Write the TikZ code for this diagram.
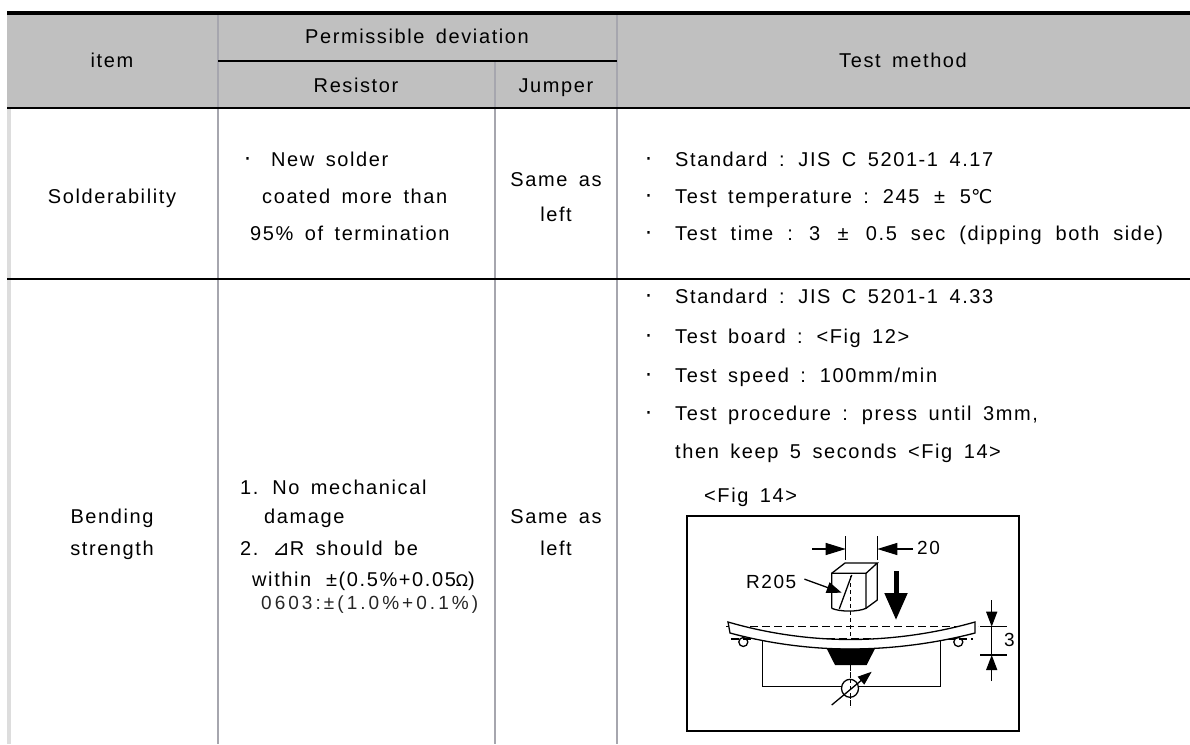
\documentclass[tikz,border=0pt]{standalone}
\usepackage{fontspec}
\setmainfont{Liberation Sans}[LetterSpace=8,WordSpace=1.6]
\newfontfamily\symfont{DejaVu Sans}
\newfontfamily\thinfont{Liberation Sans}[LetterSpace=16]
\usetikzlibrary{arrows.meta}
\definecolor{headgray}{HTML}{C0C0C0}
\definecolor{sepgray}{HTML}{A6A6AE}
\definecolor{stripgray}{HTML}{DDDDDD}
\tikzstyle{cell} = [inner sep=0pt, anchor=mid, font=\fontsize{20}{24}\selectfont]
\tikzstyle{line-cell} = [inner sep=0pt, anchor=mid west, font=\fontsize{20}{24}\selectfont]
\tikzstyle{small-cell} = [inner sep=0pt, anchor=mid west, font=\fontsize{19}{20}\selectfont]
\tikzstyle{rule} = [line width=1.5pt]
\tikzstyle{sep} = [draw=sepgray, line width=1.6pt]
\tikzstyle{fig-line} = [line width=1.3pt]
\tikzstyle{fig-arrow} = [fig-line, -{Triangle[length=15pt,width=11pt]}]
\newcommand*\dotmark{{\symfont\fontsize{22}{24}\selectfont ·}}
\newcommand*\itemdot{\makebox[29pt][l]{\hspace{-1pt}\dotmark}}

\begin{document}
\begin{tikzpicture}[x=1pt, y=-1pt]
  \useasboundingbox (0,0) rectangle (1190,744);

  % Table frame
  \fill[headgray] (7,15) rectangle (1190,108);
  \fill[stripgray] (7,108) rectangle (11,744);
  \draw[sep] (218,15) -- (218,744);
  \draw[sep] (495,61) -- (495,744);
  \draw[sep] (617,15) -- (617,744);
  \draw[line width=4pt] (7,13) -- (1190,13);
  \draw[rule] (218,61) -- (617,61);
  \draw[rule] (7,108) -- (1190,108);
  \draw[rule] (7,279) -- (1190,279);

  % Header
  \node (item) [cell] at (112,65) {item};
  \node (permdev) [cell] at (417,41) {Permissible deviation};
  \node (resistor) [cell] at (356,90) {Resistor};
  \node (jumper) [cell] at (556,90) {Jumper};
  \node (method) [cell] at (903,65) {Test method};

  % Solderability
  \node (sold) [cell] at (112,201) {Solderability};
  \node (soldres1) [line-cell] at (244,164) {\makebox[27pt][l]{\dotmark}New solder};
  \node (soldres2) [line-cell] at (262,201) {coated more than};
  \node (soldres3) [line-cell] at (250,238) {95\% of termination};
  \node (soldjmp1) [cell] at (556,184) {Same as};
  \node (soldjmp2) [cell] at (556,219) {left};
  \node (soldm1) [line-cell] at (646,164) {\itemdot Standard : JIS C 5201-1 4.17};
  \node (soldm2) [line-cell] at (646,201) {\itemdot Test temperature : 245 \,±\, 5{\symfont\fontsize{19}{20}\selectfont ℃}};
  \node (soldm3) [line-cell] at (646,238) {\itemdot\spaceskip=14pt\relax Test time : 3 \,±\, 0.5 sec (dipping both side)};

  % Bending strength
  \node (bend1) [cell] at (112,521) {Bending};
  \node (bend2) [cell] at (112,553) {strength};
  \node (bendres1) [line-cell] at (240,492) {1. No mechanical};
  \node (bendres2) [line-cell] at (264,521) {damage};
  \node (bendres3) [line-cell] at (240,553) {2. {\symfont\fontsize{21}{24}\selectfont ⊿}R should be};
  \node (bendres4) [line-cell] at (252,584) {within \,±(0.5\%+0.05{\symfont\fontsize{16}{16}\selectfont Ω})};
  \node (bendres5) [line-cell, font=\thinfont\fontsize{19}{20}\selectfont, text=black!85] at (261,607) {0603:±(1.0\%+0.1\%)};
  \node (bendjmp1) [cell] at (556,521) {Same as};
  \node (bendjmp2) [cell] at (556,553) {left};
  \node (bendm1) [line-cell] at (646,301) {\itemdot Standard : JIS C 5201-1 4.33};
  \node (bendm2) [line-cell] at (646,341) {\itemdot Test board : <Fig 12>};
  \node (bendm3) [line-cell] at (646,380) {\itemdot Test speed : 100mm/min};
  \node (bendm4) [line-cell] at (646,418) {\itemdot Test procedure : press until 3mm,};
  \node (bendm5) [line-cell] at (675,456) {then keep 5 seconds <Fig 14>};
  \node (figcap) [line-cell] at (704,500) {<Fig 14>};

  % Fig 14
  \draw[line width=1.3pt] (687,516) rectangle (1019,731);
  % jig
  \draw[fig-line] (831.7,608.3) -- (831.7,573.3) -- (866,573.3) -- (866,608.3)
    .. controls (858,612) and (840,612) .. (831.7,608.3);
  \draw[fig-line] (831.7,573.3) -- (845,563) -- (877.3,563) -- (866,573.3);
  \draw[fig-line] (877.3,563) -- (877.3,600) -- (866,608.3);
  \draw[fig-line] (851.7,575) -- (839.3,608.8);
  \draw[line width=0.9pt, dash pattern=on 4pt off 3pt] (850,576) -- (850,707);
  % width 20
  \draw[fig-line] (845.7,536) -- (845.7,560);
  \draw[fig-line] (877.3,536) -- (877.3,560);
  \draw[fig-line, -{Triangle[length=20pt,width=12pt]}] (812,549) -- (845.7,549);
  \draw[fig-line, -{Triangle[length=20pt,width=12pt]}] (913,549) -- (877.3,549);
  \node (dim20) [small-cell] at (917,552) {20};
  % R205
  \node (r205) [small-cell] at (746,586) {R205};
  \coordinate (r205tip) at (841.7,592.7);
  \draw[fig-arrow] (r205.east) ++(8,-3) -- (r205tip);
  % press force
  \draw[line width=5pt, -{Triangle[length=27pt,width=22pt]}] (896,571) -- (896,620);
  % board
  \draw[line width=1.2pt, dash pattern=on 8pt off 4pt] (726,626.7) -- (978,626.7);
  \draw[line width=1.2pt, dash pattern=on 8pt off 4pt] (731,639) -- (973,639);
  \draw[fig-line, fill=white] (728,622) parabola bend (850,639.5) (975,622) -- (975,633)
    parabola bend (850,649) (730,633) -- cycle;
  \draw[fig-line] (743.3,642) circle [radius=4.5];
  \draw[fig-line] (958.3,642) circle [radius=4.5];
  \draw[fig-line] (762.7,641) -- (762.7,686.7) -- (940.7,686.7) -- (940.7,641);
  \fill (826.7,648.5) -- (875,648.5) -- (866.7,665) -- (835,665) -- cycle;
  % meter
  \draw[fig-line, fill=white] (850,688.3) ellipse [x radius=8.5, y radius=9];
  \draw[line width=0.9pt, dash pattern=on 4pt off 3pt] (850,665) -- (850,707);
  \draw[fig-line, -{Triangle[length=14pt,width=10pt]}] (831.7,705) -- (871.7,671.7);
  % sag 3
  \draw[fig-line] (980,626.7) -- (1007,626.7);
  \draw[fig-line] (980,655) -- (1007,655);
  \draw[fig-line] (991.7,626.7) -- (991.7,655);
  \draw[fig-arrow] (991.7,600) -- (991.7,626.7);
  \draw[fig-arrow] (991.7,681) -- (991.7,655);
  \node (dim3) [small-cell] at (1004,644) {3};

\end{tikzpicture}
\end{document}
